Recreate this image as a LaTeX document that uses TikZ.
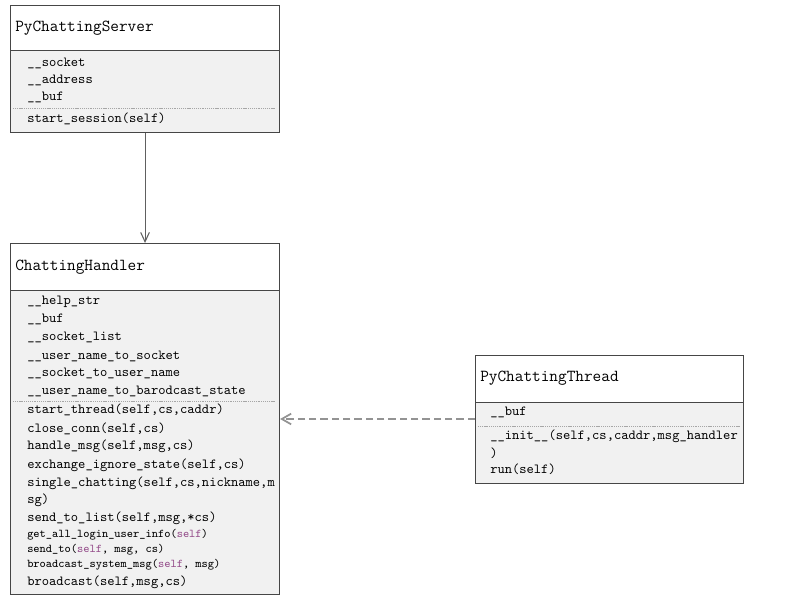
\documentclass[tikz,border=0pt]{standalone}
\usepackage{fontspec}
\usetikzlibrary{arrows.meta}
\definecolor{bodyfill}{RGB}{241,241,241}
\definecolor{edge}{RGB}{70,70,70}
\definecolor{kw}{RGB}{150,80,140}
\tikzset{
  hdr/.style={draw=edge, line width=0.8pt, fill=white, anchor=north west, inner sep=0pt},
  bdy/.style={draw=edge, line width=0.8pt, fill=bodyfill, anchor=north west, inner sep=0pt},
  ttl/.style={anchor=base west, inner sep=0pt, font=\ttfamily\fontsize{12.6pt}{14pt}\selectfont},
  txt/.style={anchor=base west, inner sep=0pt, font=\ttfamily\fontsize{10.4pt}{12pt}\selectfont},
  sml/.style={anchor=base west, inner sep=0pt, font=\ttfamily\fontsize{8.9pt}{10pt}\selectfont},
  sep/.style={draw=gray!70, line width=0.6pt, dash pattern=on 0.8pt off 0.6pt},
  assoc/.style={draw=gray!75!black, line width=0.8pt, -{Straight Barb[length=7pt,width=6.5pt]}},
  dep/.style={draw=gray!85, line width=1.3pt, dash pattern=on 5.5pt off 3pt, -{Straight Barb[length=7pt,width=8pt]}}
}
\begin{document}
\begin{tikzpicture}[x=0.75pt,y=-0.75pt]
\useasboundingbox (0,0) rectangle (793,602);
% ---- PyChattingServer ----
\node[hdr, minimum width=269*0.75pt, minimum height=45*0.75pt] (h1) at (10,5) {};
\node[bdy, minimum width=269*0.75pt, minimum height=82*0.75pt] (b1) at (10,50) {};
\node[ttl] (t1) at (15,32) {PyChattingServer};
\node[txt] (a11) at (27,67) {\_\_socket};
\node[txt] (a12) at (27,84) {\_\_address};
\node[txt] (a13) at (27,101) {\_\_buf};
\draw[sep] (13,108) -- (276,108);
\node[txt] (m11) at (27,123) {start\_session(self)};
% ---- ChattingHandler ----
\node[hdr, minimum width=269*0.75pt, minimum height=47*0.75pt] (h2) at (10,243) {};
\node[bdy, minimum width=269*0.75pt, minimum height=304*0.75pt] (b2) at (10,290) {};
\node[ttl] (t2) at (15,271) {ChattingHandler};
\node[txt] (a21) at (27,305) {\_\_help\_str};
\node[txt] (a22) at (27,323) {\_\_buf};
\node[txt] (a23) at (27,341) {\_\_socket\_list};
\node[txt] (a24) at (27,359) {\_\_user\_name\_to\_socket};
\node[txt] (a25) at (27,377) {\_\_socket\_to\_user\_name};
\node[txt] (a26) at (27,395) {\_\_user\_name\_to\_barodcast\_state};
\draw[sep] (13,401) -- (276,401);
\node[txt] (m21) at (27,414) {start\_thread(self,cs,caddr)};
\node[txt] (m22) at (27,432) {close\_conn(self,cs)};
\node[txt] (m23) at (27,450) {handle\_msg(self,msg,cs)};
\node[txt] (m24) at (27,468) {exchange\_ignore\_state(self,cs)};
\node[txt] (m25) at (27,486) {single\_chatting(self,cs,nickname,m};
\node[txt] (m25b) at (27,503) {sg)};
\node[txt] (m26) at (27,521) {send\_to\_list(self,msg,*cs)};
\node[sml] (m27) at (27,537) {get\_all\_login\_user\_info(\textcolor{kw}{self})};
\node[sml] (m28) at (27,552) {send\_to(\textcolor{kw}{self}, msg, cs)};
\node[sml] (m29) at (27,567) {broadcast\_system\_msg(\textcolor{kw}{self}, msg)};
\node[txt] (m210) at (27,585) {broadcast(self,msg,cs)};
% ---- PyChattingThread ----
\node[hdr, minimum width=268*0.75pt, minimum height=47*0.75pt] (h3) at (475,355) {};
\node[bdy, minimum width=268*0.75pt, minimum height=81*0.75pt] (b3) at (475,402) {};
\node[ttl] (t3) at (480,382) {PyChattingThread};
\node[txt] (a31) at (490,416) {\_\_buf};
\draw[sep] (478,426) -- (740,426);
\node[txt] (m31) at (490,440) {\_\_init\_\_(self,cs,caddr,msg\_handler};
\node[txt] (m31b) at (490,457) {)};
\node[txt] (m32) at (490,474) {run(self)};
% ---- connectors ----
\draw[assoc] (b1.south) -- (h2.north);
\coordinate (dstart) at (475,419);
\draw[dep] (dstart) -- (dstart -| b2.east);
\end{tikzpicture}
\end{document}
